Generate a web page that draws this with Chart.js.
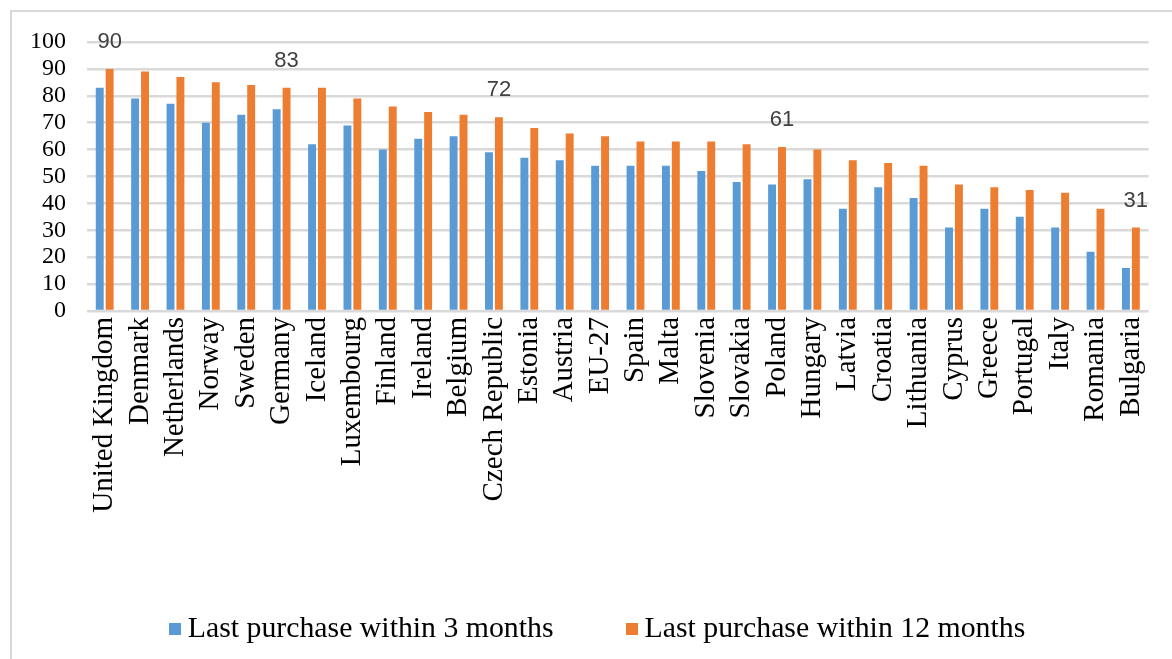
<!DOCTYPE html>
<html>
<head>
<meta charset="utf-8">
<script src="https://cdn.jsdelivr.net/npm/chart.js@4.4.1/dist/chart.umd.min.js"></script>
<style>
  html, body { margin: 0; padding: 0; background: #fff; }
  #wrap { position: relative; width: 1172px; height: 659px; }
  #legend { position: absolute; left: 11px; width: 1172px; top: 610px; text-align: center;
            font-family: "Liberation Serif", "Times New Roman", serif; font-size: 29.8px; color: #000; white-space: nowrap; }
  #legend span.item { display: inline-block; margin: 0 36px; }
  #legend span.box { display: inline-block; width: 12px; height: 12px; margin-right: 7px; vertical-align: 2px; }
</style>
</head>
<body>
<div id="wrap">
  <canvas id="c" width="1172" height="659"></canvas>
  <div id="legend"></div>
</div>
<script>
const categories = ["United Kingdom","Denmark","Netherlands","Norway","Sweden","Germany","Iceland","Luxembourg","Finland","Ireland","Belgium","Czech Republic","Estonia","Austria","EU-27","Spain","Malta","Slovenia","Slovakia","Poland","Hungary","Latvia","Croatia","Lithuania","Cyprus","Greece","Portugal","Italy","Romania","Bulgaria"];
const within3Months = [83,79,77,70,73,75,62,69,60,64,65,59,57,56,54,54,54,52,48,47,49,38,46,42,31,38,35,31,22,16];
const within12Months = [90,89,87,85,84,83,83,79,76,74,73,72,68,66,65,63,63,63,62,61,60,56,55,54,47,46,45,44,38,31];
const seriesNames = ["Last purchase within 3 months","Last purchase within 12 months"];
const seriesColors = ["#5B9BD5","#ED7D31"];
const labeledCategories = ["United Kingdom","Germany","Czech Republic","Poland","Bulgaria"];
const yTicks = [0,10,20,30,40,50,60,70,80,90,100];

const framePlugin = {
  id: 'frame',
  beforeDraw(chart) {
    const ctx = chart.ctx;
    ctx.save();
    ctx.strokeStyle = '#d9d9d9';
    ctx.lineWidth = 2;
    ctx.beginPath();
    ctx.moveTo(11, 659); ctx.lineTo(11, 11); ctx.lineTo(1172, 11);
    ctx.stroke();
    ctx.restore();
  }
};

const dataLabelPlugin = {
  id: 'dataLabels',
  afterDatasetsDraw(chart) {
    const ctx = chart.ctx;
    const meta = chart.getDatasetMeta(1);
    ctx.save();
    ctx.font = '22px "Liberation Sans", Arial, sans-serif';
    ctx.fillStyle = '#404040';
    ctx.textAlign = 'center';
    ctx.textBaseline = 'middle';
    labeledCategories.forEach(name => {
      const i = categories.indexOf(name);
      const el = meta.data[i];
      ctx.fillText(String(within12Months[i]), el.x, el.y - 27);
    });
    ctx.restore();
  }
};

new Chart(document.getElementById('c'), {
  type: 'bar',
  data: {
    labels: categories,
    datasets: [
      { label: seriesNames[0], data: within3Months, backgroundColor: seriesColors[0],
        categoryPercentage: 0.56, barPercentage: 0.8 },
      { label: seriesNames[1], data: within12Months, backgroundColor: seriesColors[1],
        categoryPercentage: 0.56, barPercentage: 0.8 }
    ]
  },
  options: {
    responsive: false,
    animation: false,
    layout: { padding: { top: 42, right: 18, left: 0, bottom: 0 } },
    plugins: { legend: { display: false }, tooltip: { enabled: false } },
    scales: {
      x: {
        grid: { display: false, drawTicks: false },
        border: { display: false },
        ticks: {
          maxRotation: 90, minRotation: 90, autoSkip: false, padding: 6,
          color: '#000',
          font: { family: '"Liberation Serif", "Times New Roman", serif', size: 29 }
        },
        afterFit(scale) { scale.height = 348; }
      },
      y: {
        min: 0, max: 100,
        afterBuildTicks(scale) { scale.ticks = yTicks.map(v => ({ value: v })); },
        grid: { color: '#d9d9d9', lineWidth: 2.5, drawTicks: false },
        border: { display: false },
        ticks: {
          autoSkip: false,
          padding: 21, color: '#000',
          font: { family: '"Liberation Serif", "Times New Roman", serif', size: 24 }
        },
        afterFit(scale) { scale.width = 87; }
      }
    }
  },
  plugins: [framePlugin, dataLabelPlugin]
});

const legend = document.getElementById('legend');
seriesNames.forEach((n, i) => {
  const item = document.createElement('span');
  item.className = 'item';
  const box = document.createElement('span');
  box.className = 'box';
  box.style.background = seriesColors[i];
  item.appendChild(box);
  item.appendChild(document.createTextNode(n));
  legend.appendChild(item);
});
</script>
</body>
</html>
